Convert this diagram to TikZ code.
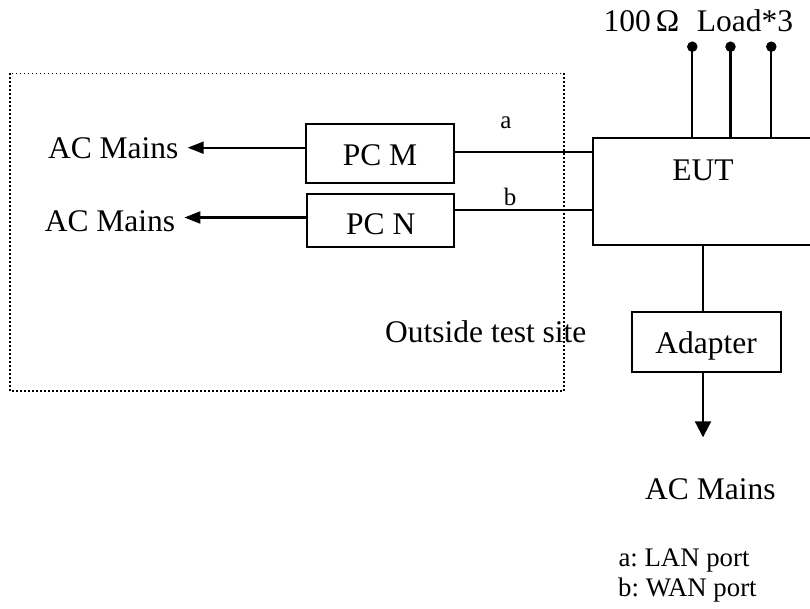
\documentclass[tikz,border=0pt]{standalone}
\usepackage{fontspec}
\setmainfont{Liberation Serif}
\usetikzlibrary{arrows.meta}
\frenchspacing
\begin{document}
\frenchspacing
\begin{tikzpicture}[x=1pt,y=-1pt,
  box/.style={draw, line width=2.1pt, inner sep=0pt, font=\fontsize{31.5}{38}\selectfont},
  wire/.style={line width=2.1pt},
  arrL/.style={wire, -{Triangle[length=16pt,width=12pt]}},
  arrD/.style={wire, -{Triangle[length=16pt,width=16pt]}},
  txt/.style={inner sep=0pt, font=\fontsize{31.5}{38}\selectfont},
  mains/.style={inner xsep=9pt, inner ysep=0pt, text height=21pt, text depth=0pt, font=\fontsize{31.5}{38}\selectfont},
  small/.style={inner sep=0pt, font=\fontsize{26.8}{32}\selectfont},
  lbl/.style={inner sep=0pt, font=\fontsize{25}{30}\selectfont},
  dotbox/.style={line width=1.4pt, dash pattern=on 1.4pt off 2.6pt},
  term/.style={circle, fill=black, inner sep=0pt, minimum size=10.5pt}]
\clip (0,0) rectangle (810,609);
\fill[white] (0,0) rectangle (810,609);

% outside test site area
\draw[dotbox] (10,73.3) rectangle (564,391);
\node[txt, anchor=base west] (out) at (385,342.7) {Outside test site};

% boxes
\node[box, minimum width=148pt, minimum height=58.7pt, text height=25pt, text depth=0pt] (pcm) at (380,153.5) {PC M};
\node[box, minimum width=146.7pt, minimum height=53pt, text height=29.6pt, text depth=0pt] (pcn) at (380.7,220.2) {PC N};
\node[box, minimum width=220.6pt, minimum height=107pt, text height=21pt, text depth=43.2pt] (eut) at (703,191.8) {EUT};
\node[box, minimum width=149pt, minimum height=59.4pt, text height=22pt, text depth=0pt] (adapter) at (706.2,342) {Adapter};

% AC mains labels
\node[mains] (acm1) at (113.3,147.8) {AC Mains};
\node[mains] (acm2) at (110,221.2) {AC Mains};
\node[txt, anchor=base west] (acm3) at (645,499.3) {AC Mains};

% arrows to AC mains
\coordinate (pcmL) at ([yshift=5.8pt]pcm.west);
\coordinate (pcnL) at ([yshift=2.7pt]pcn.west);
\draw[arrL] (pcmL) -- (pcmL -| acm1.east);
\draw[arrL] (pcnL) -- (pcnL -| acm2.east);

% links a and b
\coordinate (pcmR) at ([yshift=1.8pt]pcm.east);
\coordinate (pcnR) at ([yshift=9.9pt]pcn.east);
\draw[wire] (pcmR) -- (pcmR -| eut.west);
\draw[wire] (pcnR) -- (pcnR -| eut.west);
\node[lbl, anchor=base] (la) at (506,128.3) {a};
\node[lbl, anchor=base] (lb) at (510,206) {b};

% loads
\node[txt, anchor=base west] (ohm) at (603.3,31.7) {100\,Ω};
\node[txt, anchor=base west] (load) at (696.7,31.7) {Load*3};
\node[term] (t1) at (692.3,46.7) {};
\node[term] (t2) at (730.5,46.7) {};
\node[term] (t3) at (771.3,46.7) {};
\draw[wire] (t1.center) -- (t1.center |- eut.north);
\draw[wire] (t2.center) -- (t2.center |- eut.north);
\draw[wire] (t3.center) -- (t3.center |- eut.north);

% adapter
\draw[wire] (eut.south) -- (eut.south |- adapter.north);
\coordinate (acTip) at (703,437.3);
\draw[arrD] (eut.south |- adapter.south) -- (acTip);

% legend
\node[small, anchor=base west] (lega) at (618.3,566) {a: LAN port};
\node[small, anchor=base west] (legb) at (618,596.7) {b: WAN port};
\end{tikzpicture}
\end{document}
